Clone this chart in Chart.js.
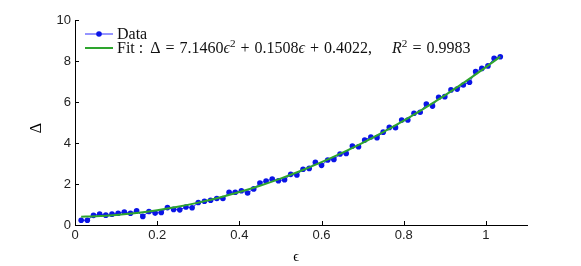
<!DOCTYPE html>
<html>
<head>
<meta charset="utf-8">
<script src="https://cdn.jsdelivr.net/npm/chart.js@4"></script>
<style>
  html, body { margin: 0; padding: 0; background: #fff; }
  canvas { display: block; }
</style>
</head>
<body>
<canvas id="fitChart" width="581" height="266"></canvas>
<script>
// Measured strain values (epsilon)
const epsValues = [
    0.015, 0.030, 0.045, 0.060, 0.075, 0.090, 0.105, 0.120, 0.135, 0.150,
    0.165, 0.180, 0.195, 0.210, 0.225, 0.240, 0.255, 0.270, 0.285, 0.300,
    0.315, 0.330, 0.345, 0.360, 0.375, 0.390, 0.405, 0.420, 0.435, 0.450,
    0.465, 0.480, 0.495, 0.510, 0.525, 0.540, 0.555, 0.570, 0.585, 0.600,
    0.615, 0.630, 0.645, 0.660, 0.675, 0.690, 0.705, 0.720, 0.735, 0.750,
    0.765, 0.780, 0.795, 0.810, 0.825, 0.840, 0.855, 0.870, 0.885, 0.900,
    0.915, 0.930, 0.945, 0.960, 0.975, 0.990, 1.005, 1.020, 1.035
];
// Measured delta values
const deltaValues = [
    0.23, 0.23, 0.47, 0.53, 0.48, 0.53, 0.57, 0.63, 0.57, 0.69,
    0.42, 0.66, 0.58, 0.61, 0.85, 0.76, 0.74, 0.88, 0.84, 1.10,
    1.16, 1.21, 1.29, 1.29, 1.60, 1.60, 1.67, 1.56, 1.76, 2.05,
    2.15, 2.24, 2.16, 2.21, 2.47, 2.44, 2.72, 2.76, 3.06, 2.91,
    3.17, 3.20, 3.46, 3.49, 3.85, 3.82, 4.15, 4.29, 4.26, 4.53,
    4.76, 4.75, 5.12, 5.12, 5.45, 5.50, 5.90, 5.80, 6.23, 6.26,
    6.59, 6.63, 6.83, 6.96, 7.48, 7.64, 7.76, 8.13, 8.21
];
// Quadratic fit curve, sampled
const fitEps = [0.015, 0.05, 0.10, 0.15, 0.20, 0.25, 0.30, 0.35, 0.40, 0.45, 0.50,
                0.55, 0.60, 0.65, 0.70, 0.75, 0.80, 0.85, 0.90, 0.95, 1.00, 1.035];
const fitDelta = [0.406, 0.428, 0.489, 0.586, 0.718, 0.887, 1.091, 1.330, 1.606, 1.917, 2.264,
                  2.647, 3.065, 3.519, 4.009, 4.535, 5.096, 5.693, 6.326, 6.995, 7.699, 8.213];

const xTicks = [0, 0.2, 0.4, 0.6, 0.8, 1];
const yTicks = [0, 2, 4, 6, 8, 10];

const dataLabel = 'Data';
const fitLabel = 'Fit : \u0394 = 7.1460\u03F5\u00B2 + 0.1508\u03F5 + 0.4022,   R\u00B2 = 0.9983';

const tickFont = { family: '"Liberation Sans", Arial, sans-serif', size: 13 };
const serif = '"Liberation Serif", "Times New Roman", serif';

// Draw a run of text pieces (italic / superscript / extra gap) on the canvas
function drawRuns(ctx, runs, x, y, size) {
    runs.forEach(r => {
        if (r.gap) { x += r.gap; return; }
        const s = r.sup ? size * 0.7 : size;
        ctx.font = (r.it ? 'italic ' : '') + s + 'px ' + serif;
        ctx.fillText(r.t, x, r.sup ? y - size * 0.38 : y);
        x += ctx.measureText(r.t).width;
    });
    return x;
}

const decorPlugin = {
    id: 'decor',
    afterDraw(chart) {
        const ctx = chart.ctx;
        const area = chart.chartArea;
        const xs = chart.scales.x;
        const ys = chart.scales.y;

        // inward tick marks
        ctx.save();
        ctx.strokeStyle = '#000';
        ctx.lineWidth = 1;
        ctx.beginPath();
        xTicks.forEach(v => {
            const px = Math.round(xs.getPixelForValue(v)) + 0.5;
            ctx.moveTo(px, area.bottom);
            ctx.lineTo(px, area.bottom - 4);
        });
        yTicks.forEach(v => {
            const py = Math.round(ys.getPixelForValue(v)) + 0.5;
            ctx.moveTo(area.left, py);
            ctx.lineTo(area.left + 4, py);
        });
        ctx.stroke();

        // axis titles
        ctx.fillStyle = '#000';
        ctx.textAlign = 'center';
        ctx.textBaseline = 'middle';
        ctx.font = '14px ' + serif;
        ctx.fillText('\u03F5', (area.left + area.right) / 2 - 5, 257);
        ctx.save();
        ctx.translate(37, 128);
        ctx.rotate(-Math.PI / 2);
        ctx.font = '16px ' + serif;
        ctx.fillText('\u0394', 0, 0);
        ctx.restore();

        // legend inside the axes
        const ds = chart.data.datasets;
        const lx0 = 85, lx1 = 113, tx = 117;
        const y1 = 34, y2 = 48;
        ctx.lineWidth = ds[0].borderWidth;
        ctx.strokeStyle = ds[0].borderColor;
        ctx.beginPath();
        ctx.moveTo(lx0, y1);
        ctx.lineTo(lx1, y1);
        ctx.stroke();
        ctx.fillStyle = ds[0].pointBackgroundColor;
        ctx.beginPath();
        ctx.arc((lx0 + lx1) / 2, y1, 2.8, 0, Math.PI * 2);
        ctx.fill();
        ctx.lineWidth = ds[1].borderWidth;
        ctx.strokeStyle = ds[1].borderColor;
        ctx.beginPath();
        ctx.moveTo(lx0, y2);
        ctx.lineTo(lx1, y2);
        ctx.stroke();

        ctx.fillStyle = '#111';
        ctx.textAlign = 'left';
        ctx.textBaseline = 'alphabetic';
        drawRuns(ctx, [{ t: dataLabel }], tx, y1 + 5, 16);
        drawRuns(ctx, [
            { t: 'Fit :' }, { gap: 7 }, { t: '\u0394' }, { gap: 5 }, { t: '=' }, { gap: 5 },
            { t: '7.1460' }, { t: '\u03F5', it: true }, { t: '2', sup: true }, { gap: 5 },
            { t: '+' }, { gap: 5 }, { t: '0.1508' }, { t: '\u03F5', it: true }, { gap: 5 },
            { t: '+' }, { gap: 5 }, { t: '0.4022,' }, { gap: 20 },
            { t: 'R', it: true }, { t: '2', sup: true }, { gap: 5 }, { t: '=' }, { gap: 5 },
            { t: '0.9983' }
        ], tx, y2 + 5, 16);
        ctx.restore();
    }
};

const ctx = document.getElementById('fitChart').getContext('2d');
const fitChart = new Chart(ctx, {
    type: 'scatter',
    data: {
        datasets: [
            {
                label: dataLabel,
                data: epsValues.map((x, i) => ({ x: x, y: deltaValues[i] })),
                showLine: true,
                borderColor: '#2a2aff',
                borderWidth: 1,
                pointRadius: 2.8,
                pointBackgroundColor: '#0a14e6',
                pointBorderWidth: 0,
                order: 2
            },
            {
                label: fitLabel,
                data: fitEps.map((x, i) => ({ x: x, y: fitDelta[i] })),
                showLine: true,
                borderColor: '#2ea52e',
                borderWidth: 2,
                pointRadius: 0,
                cubicInterpolationMode: 'monotone',
                order: 1
            }
        ]
    },
    options: {
        responsive: false,
        animation: false,
        events: [],
        layout: { padding: { left: 0, right: 54, top: 20, bottom: 0 } },
        plugins: {
            legend: { display: false },
            tooltip: { enabled: false }
        },
        scales: {
            x: {
                type: 'linear',
                min: 0,
                max: 1.1,
                afterBuildTicks: s => { s.ticks = xTicks.map(v => ({ value: v })); },
                afterFit: s => { s.height = 41; },
                ticks: {
                    font: tickFont,
                    color: '#222',
                    padding: 3,
                    maxRotation: 0,
                    callback: v => String(v)
                },
                grid: { display: false, drawTicks: false },
                border: { display: true, color: '#000', width: 1 }
            },
            y: {
                type: 'linear',
                min: 0,
                max: 10,
                afterBuildTicks: s => { s.ticks = yTicks.map(v => ({ value: v })); },
                afterFit: s => { s.width = 75; },
                ticks: {
                    font: tickFont,
                    color: '#222',
                    padding: 4,
                    callback: v => String(v)
                },
                grid: { display: false, drawTicks: false },
                border: { display: true, color: '#000', width: 1 }
            }
        }
    },
    plugins: [decorPlugin]
});
</script>
</body>
</html>
